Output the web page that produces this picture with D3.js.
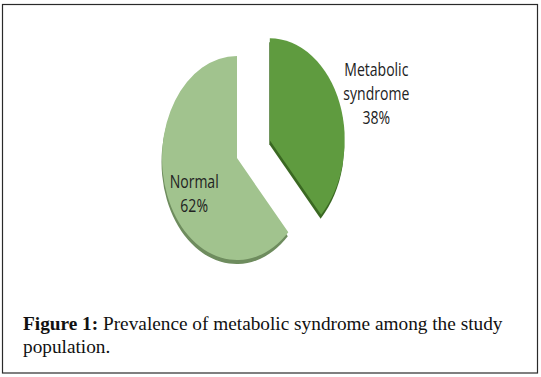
<!DOCTYPE html>
<html>
<head>
<meta charset="utf-8">
<script src="https://cdn.jsdelivr.net/npm/d3@7"></script>
<style>
  body { margin: 0; background: #fff; }
  svg { display: block; }
</style>
</head>
<body>
<div id="chart"></div>
<script>
var width = 541;
var height = 377;

// data
let categories = ["Metabolic syndrome", "Normal"];
let percents = [38, 62];
let labelLines = [["Metabolic", "syndrome", "38%"], ["Normal", "62%"]];
let captionBold = "Figure 1:";
let captionRest = " Prevalence of metabolic syndrome among the study";
let captionLine2 = "population.";

// look of the pie
let fills = ["#5f9b3f", "#a1c38e"];
let edges = ["#3a6822", "#6e8c5e"];
let explode = [48, 0];
let labelRadius = [150, 70];
let labelNudge = [[4, 8], [5, 10]];
let radius = 102;
let squeeze = 0.735;   // picture is squashed sideways
let depth = 4;

let svg = d3.select("#chart").append("svg")
    .attr("width", width)
    .attr("height", height);

svg.append("rect")
    .attr("x", 2.5)
    .attr("y", 4.5)
    .attr("width", 535)
    .attr("height", 368.5)
    .attr("fill", "#fff")
    .attr("stroke", "#2a2a2a")
    .attr("stroke-width", 1.2);

let pie = d3.pie().sort(null).value(d => d);
let arcs = pie(percents);

let arc = d3.arc().innerRadius(0).outerRadius(radius);

let chartG = svg.append("g")
    .attr("transform", "translate(237,158)");

function offsetOf(d, i) {
    let mid = (d.startAngle + d.endAngle) / 2;
    return [Math.sin(mid) * explode[i] * squeeze, -Math.cos(mid) * explode[i]];
}

let sliceG = chartG.selectAll(".slice")
    .data(arcs)
    .enter()
    .append("g")
    .attr("class", "slice")
    .attr("transform", (d, i) => {
        let o = offsetOf(d, i);
        return "translate(" + o[0] + "," + o[1] + ")";
    });

// darker copy underneath for the 3d edge
sliceG.append("path")
    .attr("transform", "translate(-0.5," + depth + ") scale(" + squeeze + ",1)")
    .attr("d", arc)
    .attr("fill", (d, i) => edges[i]);

sliceG.append("path")
    .attr("transform", "scale(" + squeeze + ",1)")
    .attr("d", arc)
    .attr("fill", (d, i) => fills[i]);

// labels
let lineH = 24;
arcs.forEach((d, i) => {
    let la = d3.arc().innerRadius(labelRadius[i]).outerRadius(labelRadius[i]);
    let c = la.centroid(d);
    let o = offsetOf(d, i);
    let cx = c[0] * squeeze + o[0] + labelNudge[i][0];
    let cy = c[1] + o[1] + labelNudge[i][1];
    let lines = labelLines[i];
    let t = chartG.append("text")
        .attr("transform", "translate(" + cx + "," + cy + ") scale(0.78,1)")
        .attr("text-anchor", "middle")
        .attr("font-family", "'Open Sans', sans-serif")
        .attr("font-size", 18)
        .attr("fill", "#222");
    lines.forEach((s, k) => {
        t.append("tspan")
            .attr("x", 0)
            .attr("y", (k - (lines.length - 1) / 2) * lineH)
            .attr("dy", "0.36em")
            .text(s);
    });
});

// caption
let cap = svg.append("text")
    .attr("x", 23)
    .attr("y", 330)
    .attr("font-family", "'Liberation Serif', serif")
    .attr("font-size", 19.3)
    .attr("fill", "#111");
cap.append("tspan").attr("font-weight", "bold").text(captionBold);
cap.append("tspan").text(captionRest);

svg.append("text")
    .attr("x", 23)
    .attr("y", 353)
    .attr("font-family", "'Liberation Serif', serif")
    .attr("font-size", 19.3)
    .attr("fill", "#111")
    .text(captionLine2);
</script>
</body>
</html>
